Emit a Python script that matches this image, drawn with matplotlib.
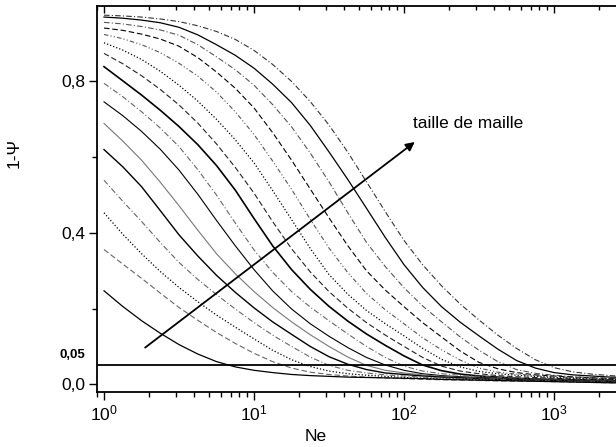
import matplotlib
matplotlib.use("Agg")
import matplotlib.pyplot as plt
from matplotlib.ticker import FixedLocator, LogLocator, NullFormatter, LogFormatterMathtext
import matplotlib.transforms as mtransforms

plt.rcParams["font.family"] = ["Liberation Sans", "DejaVu Sans"]
plt.rcParams["mathtext.fontset"] = "custom"
plt.rcParams["mathtext.rm"] = "Liberation Sans"
plt.rcParams["mathtext.it"] = "Liberation Sans:italic"
plt.rcParams["mathtext.default"] = "regular"

ne = [1, 1.33, 1.78, 2.37, 3.16, 4.22, 5.62, 7.50, 10, 13.3, 17.8, 23.7, 31.6, 42.2,
      56.2, 75.0, 100, 133, 178, 237, 316, 422, 562, 750, 1000, 1330, 1780, 2370, 3160]

# 1-Psi, one list per mesh size (top curve first)
c01 = [.975, .973, .970, .965, .958, .947, .932, .911, .882, .845, .800, .747, .685, .613, .535,
       .456, .380, .316, .260, .212, .170, .130, .095, .065, .044, .033, .027, .023, .020]
c02 = [.970, .967, .962, .955, .943, .923, .897, .869, .835, .793, .744, .684, .614, .541, .465,
       .388, .316, .256, .205, .164, .128, .093, .063, .043, .031, .025, .022, .019, .018]
c03 = [.956, .952, .945, .936, .922, .897, .865, .831, .790, .739, .680, .611, .535, .453, .375,
       .311, .255, .207, .165, .125, .090, .060, .039, .029, .024, .020, .018, .016, .015]
c04 = [.941, .935, .925, .912, .893, .863, .825, .782, .730, .665, .592, .516, .440, .366, .300,
       .249, .205, .163, .125, .088, .058, .041, .031, .025, .022, .019, .017, .015, .014]
c05 = [.924, .913, .897, .876, .848, .814, .772, .720, .660, .590, .515, .436, .360, .295, .240,
       .197, .160, .123, .091, .064, .043, .032, .027, .023, .020, .018, .016, .014, .013]
c06 = [.902, .883, .858, .827, .790, .748, .700, .646, .585, .512, .435, .359, .290, .238, .195,
       .160, .128, .095, .066, .046, .034, .028, .024, .021, .018, .016, .014, .013, .012]
c07 = [.874, .847, .815, .779, .738, .690, .635, .573, .505, .430, .358, .297, .245, .201, .163,
       .130, .100, .071, .048, .035, .028, .023, .020, .018, .016, .014, .013, .012, .011]
c08 = [.839, .802, .764, .724, .681, .633, .578, .513, .438, .366, .303, .251, .206, .167, .133,
       .103, .075, .051, .036, .027, .022, .019, .016, .014, .013, .012, .011, .010, .010]
c09 = [.795, .760, .720, .677, .628, .567, .500, .426, .355, .296, .245, .204, .168, .133, .100,
       .071, .048, .035, .028, .024, .021, .018, .016, .014, .013, .012, .011, .010, .009]
c10 = [.746, .710, .668, .621, .566, .502, .433, .366, .303, .247, .199, .160, .127, .097, .071,
       .051, .037, .028, .023, .020, .018, .016, .014, .013, .012, .011, .010, .009, .008]
c11 = [.689, .643, .592, .534, .472, .407, .345, .292, .245, .203, .165, .131, .100, .072, .050,
       .037, .030, .025, .021, .018, .016, .014, .013, .012, .011, .010, .009, .008, .007]
c12 = [.620, .575, .522, .459, .395, .339, .288, .243, .202, .165, .132, .100, .073, .053, .039,
       .030, .026, .022, .019, .017, .015, .013, .012, .011, .010, .009, .008, .007, .007]
c13 = [.539, .484, .430, .375, .322, .277, .237, .199, .163, .130, .100, .072, .050, .037, .030,
       .025, .022, .019, .017, .015, .014, .013, .011, .010, .009, .008, .007, .006, .006]
c14 = [.453, .397, .345, .298, .256, .218, .183, .151, .120, .090, .065, .047, .035, .028, .024,
       .021, .018, .016, .014, .013, .012, .011, .010, .009, .008, .007, .006, .005, .005]
c15 = [.356, .318, .280, .241, .203, .169, .137, .108, .082, .060, .043, .032, .026, .022, .019,
       .017, .015, .013, .012, .011, .010, .009, .008, .008, .007, .006, .005, .004, .004]
c16 = [.247, .206, .168, .135, .105, .080, .060, .046, .037, .031, .026, .023, .021, .019, .018,
       .017, .016, .015, .013, .012, .011, .010, .009, .008, .007, .006, .005, .004, .004]

threshold = 0.05
arrow_start = (1.88, 0.097)
arrow_end = (118, 0.64)
arrow_label = "taille de maille"

curves = [c01, c02, c03, c04, c05, c06, c07, c08,
          c09, c10, c11, c12, c13, c14, c15, c16]

DASH = (0, (5, 2.5))
DOT = (0, (1, 1.6))
DASHDOT = (0, (5, 2, 1, 2))
DASHDOTDOT = (0, (4, 2, 1, 2, 1, 2))
styles = [
    (DASHDOT, "#333333", 0.8),
    ("-", "black", 0.9),
    (DASHDOT, "#555555", 0.8),
    (DASH, "black", 0.8),
    (DASHDOTDOT, "#555555", 0.8),
    (DOT, "black", 0.9),
    (DASH, "#222222", 0.8),
    ("-", "black", 1.2),
    (DASHDOT, "#666666", 0.8),
    ("-", "black", 0.8),
    ("-", "#777777", 0.8),
    ("-", "black", 1.0),
    (DASHDOT, "#666666", 0.8),
    (DOT, "black", 0.9),
    (DASH, "#666666", 0.8),
    ("-", "black", 0.9),
]

fig = plt.figure(figsize=(6.16, 4.47), dpi=100)
ax = fig.add_axes([97 / 616, 55 / 447, 531 / 616, 386.3 / 447])

for vals, (ls, col, lw) in zip(curves, styles):
    ax.plot(ne, vals, linestyle=ls, color=col, linewidth=lw)

ax.axhline(threshold, color="black", linewidth=1.3)

ax.set_xscale("log")
ax.set_xlim(0.898, 3114)
ax.set_ylim(-0.0203, 1.0)

ax.yaxis.set_major_locator(FixedLocator([0.0, 0.4, 0.8]))
ax.yaxis.set_minor_locator(FixedLocator([0.2, 0.6]))
ax.set_yticklabels(["0,0", "0,4", "0,8"])
ax.xaxis.set_major_locator(LogLocator(base=10, numticks=10))
ax.xaxis.set_minor_locator(LogLocator(base=10, subs=range(2, 10), numticks=20))
ax.xaxis.set_major_formatter(LogFormatterMathtext())
ax.xaxis.set_minor_formatter(NullFormatter())

ax.tick_params(axis="both", which="major", direction="out", length=5.5, width=1.0,
               labelsize=12.5, pad=3)
ax.tick_params(axis="both", which="minor", direction="out", length=3.5, width=1.0)
for side in ("left", "bottom", "top"):
    ax.spines[side].set_linewidth(1.3)
ax.spines["right"].set_visible(False)

# mirrored ticks on the top edge, pointing inward
top = ax.twiny()
top.set_xscale("log")
top.set_xlim(ax.get_xlim())
top.xaxis.set_major_locator(LogLocator(base=10, numticks=10))
top.xaxis.set_minor_locator(LogLocator(base=10, subs=range(2, 10), numticks=20))
top.xaxis.set_major_formatter(NullFormatter())
top.xaxis.set_minor_formatter(NullFormatter())
top.tick_params(axis="x", which="major", direction="in", length=5, width=1.0)
top.tick_params(axis="x", which="minor", direction="in", length=3, width=1.0)
for side in ("left", "bottom", "right", "top"):
    top.spines[side].set_visible(False)

ax.set_xlabel("Ne", fontsize=12.5)
ax.xaxis.set_label_coords(0.412, -0.096)
ax.set_ylabel("1-Ψ", fontsize=12.5)
ax.yaxis.set_label_coords(-0.142, 0.619)

# bold label for the 5 % threshold line
trans = mtransforms.blended_transform_factory(ax.transAxes, ax.transData)
ax.text(-0.022, 0.077, "0,05", transform=trans, ha="right", va="center",
        fontsize=9.5, fontweight="bold")

ax.annotate("", xy=arrow_end, xytext=arrow_start,
            arrowprops=dict(arrowstyle="-|>", color="black", lw=1.3,
                            mutation_scale=13, shrinkA=0, shrinkB=0))
ax.text(115, 0.689, arrow_label, fontsize=12.5, ha="left", va="center")

fig.savefig("out.png", dpi=100)
plt.close(fig)
